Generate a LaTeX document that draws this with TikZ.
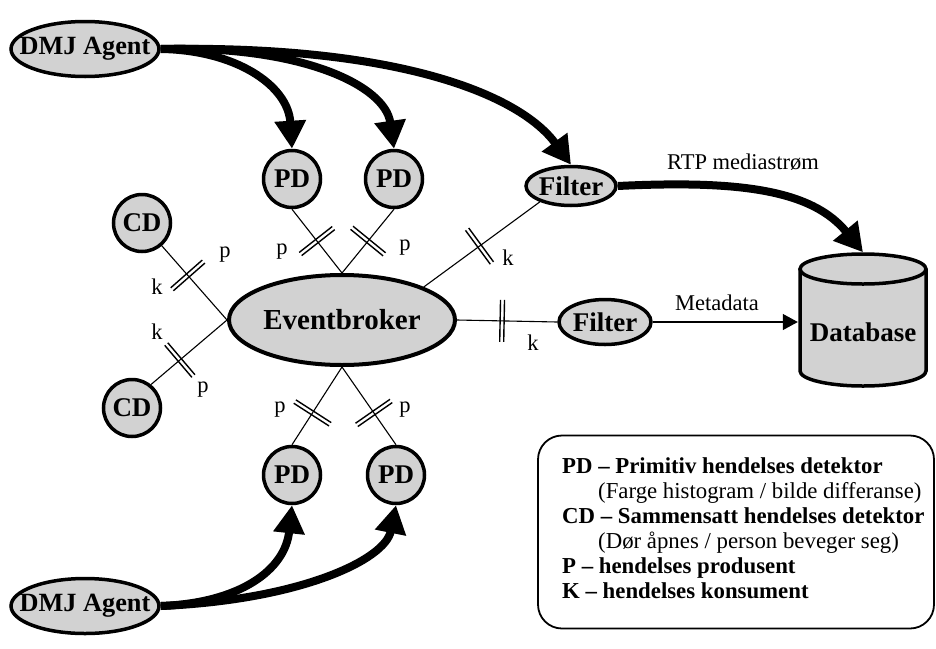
\documentclass[tikz,border=0pt]{standalone}
\usepackage{fontspec}
\setmainfont{Liberation Serif}
\usetikzlibrary{shapes.geometric, arrows.meta, decorations.markings}
\definecolor{boxgray}{RGB}{210,210,210}
\begin{document}
\begin{tikzpicture}[x=1pt, y=-1pt,
  unit/.style={draw, fill=boxgray, line width=3.5pt, inner sep=0pt,
    font=\fontsize{27}{30}\selectfont\bfseries},
  detector/.style={unit, circle, minimum size=57pt},
  oval/.style={unit, ellipse},
  agentbox/.style={oval, minimum width=148pt, minimum height=55pt,
    font=\fontsize{26.3}{29}\selectfont\bfseries},
  wire/.style={line width=1.1pt},
  flow/.style={line width=8pt, -{Triangle[length=28pt, width=30pt]}},
  tag/.style={font=\fontsize{22.5}{25}\selectfont, inner sep=0pt},
  dbar/.style={postaction={decorate, decoration={markings,
    mark=at position #1 with {\draw[line width=1.4pt] (-2pt,-21pt) -- (-2pt,21pt) (2pt,-21pt) -- (2pt,21pt);}}}},
  legendtext/.style={font=\fontsize{22.8}{25}\selectfont, anchor=base west, inner sep=0pt},
  legendhead/.style={legendtext, font=\fontsize{22.8}{25}\selectfont\bfseries}
]
\useasboundingbox (0,0) rectangle (936,648);

% database cylinder
\draw[line width=3.5pt, fill=boxgray] (800,269) -- (800,371)
  arc[start angle=180, end angle=360, x radius=63pt, y radius=15pt] -- (926,269);
\draw[line width=3.5pt, fill=boxgray] (863,269) ellipse [x radius=63pt, y radius=15pt];
\node[minimum width=130pt, minimum height=135pt, inner sep=0pt] (db) at (863,320) {};
\node[font=\fontsize{27}{30}\selectfont\bfseries, inner sep=0pt] (dbtext) at (863,332) {Database};

% agents, detectors, broker, filters
\node[agentbox] (agentA) at (85,49) {\makebox[0pt]{DMJ Agent}};
\node[agentbox] (agentB) at (85,606) {\makebox[0pt]{DMJ Agent}};
\node[detector] (pdA) at (292,179) {PD};
\node[detector] (pdB) at (394,179) {PD};
\node[detector] (pdC) at (292,475) {PD};
\node[detector] (pdD) at (396,475) {PD};
\node[detector] (cdA) at (142,223) {CD};
\node[detector] (cdB) at (132,408) {CD};
\node[oval, line width=4pt, minimum width=226pt, minimum height=90pt,
  font=\fontsize{29}{32}\selectfont\bfseries] (broker) at (342,320) {\makebox[0pt]{Eventbroker}};
\node[oval, minimum width=90pt, minimum height=39pt] (filtA) at (571,186) {\makebox[0pt]{Filter}};
\node[oval, minimum width=92pt, minimum height=45pt] (filtB) at (605,322) {\makebox[0pt]{Filter}};

% event channels with producer/consumer bars
\draw[wire, dbar=0.5] (pdA.south) -- (broker.north);
\draw[wire, dbar=0.5] (pdB.south) -- (broker.north);
\draw[wire, dbar=0.52] (filtA.207) -- (broker.22);
\draw[wire, dbar=0.4] (cdA.311) -- (broker.west);
\draw[wire, dbar=0.38] (cdB.51) -- (broker.west);
\draw[wire, dbar=0.41] (pdC.north) -- (broker.south);
\draw[wire, dbar=0.41] (pdD.north) -- (broker.south);
\draw[wire, dbar=0.45] (broker.east) -- (filtB.west);
\draw[wire, -{Triangle[length=15pt, width=16pt]}] (filtB.east) -- (filtB.east -| db.west);

% control and media flows
\draw[flow] (agentA.east) .. controls (235,50) and (288,85) .. (pdA.north);
\draw[flow] (agentA.east) .. controls (300,45) and (385,85) .. (pdB.north);
\draw[flow] (agentA.east) .. controls (400,45) and (520,95) .. (filtA.north);
\draw[flow] (agentB.east) .. controls (240,603) and (285,570) .. (pdC.south);
\draw[flow] (agentB.east) .. controls (300,600) and (385,560) .. (pdD.south);
\draw[flow] (filtA.east) .. controls (740,180) and (812,190) .. (db.north);

% channel labels
\node[tag] (pA) at (282,252) {p};
\node[tag] (pB) at (405,248) {p};
\node[tag] (kA) at (508,258) {k};
\node[tag] (pC) at (225,255) {p};
\node[tag] (kC) at (157,287) {k};
\node[tag] (kD) at (157,332) {k};
\node[tag] (pD) at (203,390) {p};
\node[tag] (pE) at (280,410) {p};
\node[tag] (pF) at (405,410) {p};
\node[tag] (kB) at (533,343) {k};
\node[tag] (meta) at (717,303) {Metadata};
\node[tag] (rtp) at (743,162) {RTP mediastrøm};

% legend
\node[draw, line width=1.8pt, rounded corners=24pt, minimum width=396pt,
  minimum height=193pt, inner sep=0pt] (legend) at (736,532) {};
\node[legendhead] (l1) at (562,473) {PD – Primitiv hendelses detektor};
\node[legendtext] (l2) at (598,498) {(Farge histogram / bilde differanse)};
\node[legendhead] (l3) at (562,523) {CD – Sammensatt hendelses detektor};
\node[legendtext] (l4) at (598,548) {(Dør åpnes / person beveger seg)};
\node[legendhead] (l5) at (562,573) {P – hendelses produsent};
\node[legendhead] (l6) at (562,598) {K – hendelses konsument};
\end{tikzpicture}
\end{document}
